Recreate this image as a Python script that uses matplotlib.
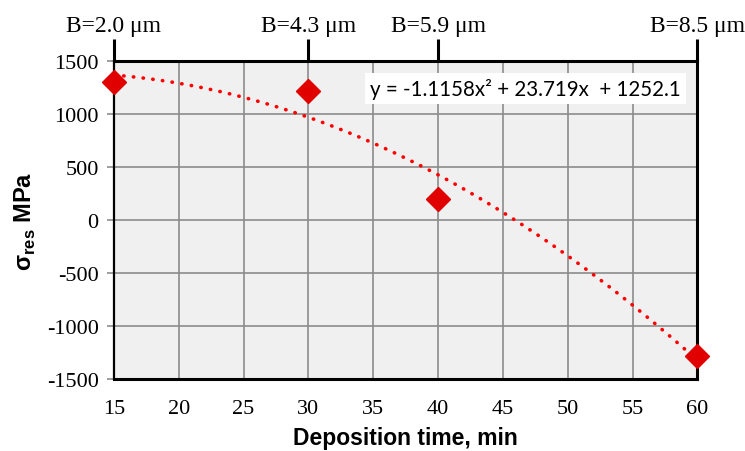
import numpy as np
import matplotlib
matplotlib.use("Agg")
import matplotlib.pyplot as plt

# Data
dep_time = [15, 30, 40, 60]
sigma_res = [1300, 1220, 200, -1280]
thickness_labels = ["B=2.0 \u03bcm", "B=4.3 \u03bcm", "B=5.9 \u03bcm", "B=8.5 \u03bcm"]
eq_text = "y = -1.1158x\u00b2 + 23.719x  + 1252.1"

plt.rcParams['axes.unicode_minus'] = False
plt.rcParams['mathtext.fontset'] = 'custom'
plt.rcParams['mathtext.rm'] = 'Liberation Sans:bold'
plt.rcParams['mathtext.bf'] = 'Liberation Sans:bold'

serif = 'Liberation Serif'
sans = 'Liberation Sans'

fig = plt.figure(figsize=(7.45, 4.52), dpi=100)
ax = fig.add_axes([0.153, 0.159, 0.783, 0.704])
ax.set_facecolor('#f0f0f0')

# quadratic trendline (as Excel does it)
coef = np.polyfit(dep_time, sigma_res, 2)
xs = np.linspace(15, 60, 200)
ax.plot(xs, np.polyval(coef, xs), color='#ff0000', lw=2.6, ls=(0, (0.1, 2.6)),
        dash_capstyle='round', zorder=3)
ax.plot(dep_time, sigma_res, ls='none', marker='D', ms=12.5, color='#e00000',
        zorder=4, clip_on=False)

ax.set_xlim(15, 60)
ax.set_ylim(-1500, 1500)
ax.set_xticks(range(15, 61, 5))
ax.set_yticks(range(-1500, 1501, 500))
ax.grid(True, color='#8c8c8c', lw=1.2)
ax.set_axisbelow(True)
ax.tick_params(axis='x', length=0, pad=14, labelsize=16)
ax.tick_params(axis='y', length=5, width=1.2, color='#8c8c8c', labelsize=16, pad=6)
for lab in ax.get_xticklabels() + ax.get_yticklabels():
    lab.set_fontfamily(serif)

for side in ['top', 'bottom', 'right']:
    ax.spines[side].set_linewidth(2.2)
ax.spines['left'].set_linewidth(1.6)

ax.set_xlabel("Deposition time, min", fontfamily=sans, fontweight='bold',
              fontsize=16.5, labelpad=6)
ax.set_ylabel(r"σ$_{\mathrm{res}}$ MPa", fontfamily=sans, fontweight='bold',
              fontsize=17, labelpad=6)

# top axis with film thickness
top = ax.twiny()
top.set_xlim(ax.get_xlim())
top.set_xticks(dep_time)
top.set_xticklabels(thickness_labels, fontfamily=serif, fontsize=17)
top.tick_params(axis='x', length=16, width=2.2, color='black', pad=2)
for s in top.spines.values():
    s.set_visible(False)

ax.text(0.439, 0.912, eq_text, transform=ax.transAxes, fontfamily='Lato',
        fontsize=14.8, va='center', ha='left', zorder=5,
        bbox=dict(facecolor='white', edgecolor='none', pad=3.5))

fig.savefig('out.png', dpi=100)
